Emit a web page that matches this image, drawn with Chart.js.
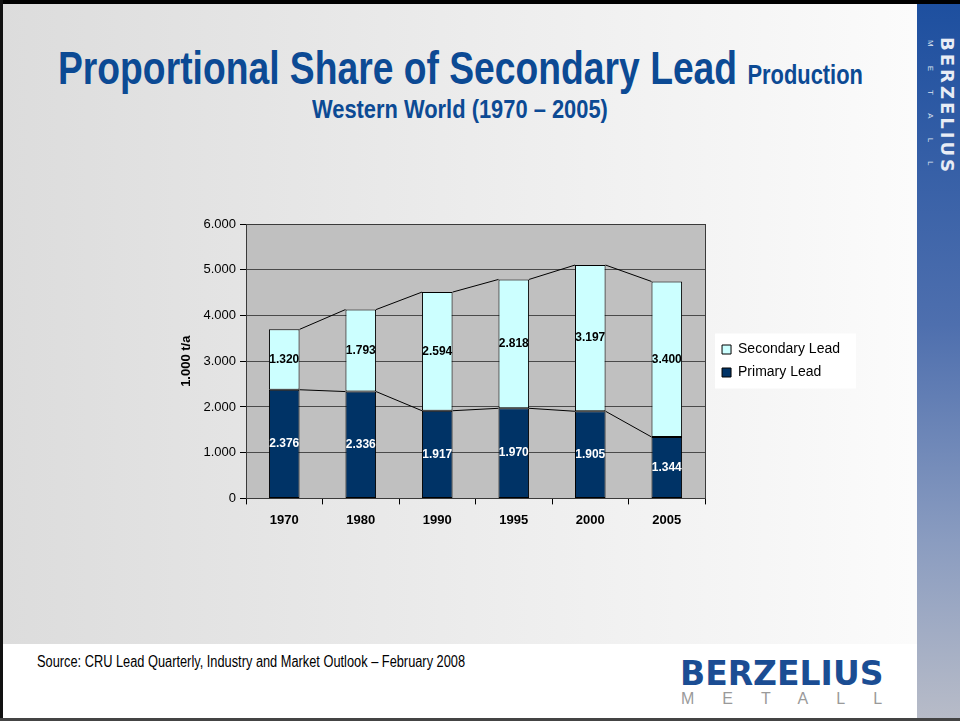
<!DOCTYPE html>
<html>
<head>
<meta charset="utf-8">
<script src="https://cdn.jsdelivr.net/npm/chart.js@4/dist/chart.umd.min.js"></script>
<style>
  body { margin: 0; }
  #slide {
    position: relative; width: 960px; height: 721px; overflow: hidden;
    background: linear-gradient(to right, #dcdcdc 0%, #fbfbfb 95%);
    font-family: "Liberation Sans", Arial, sans-serif;
  }
  #bottomband { position: absolute; left: 0; top: 644px; width: 917px; height: 77px; background: #fff; }
  #sidebar {
    position: absolute; left: 917px; top: 0; width: 43px; height: 721px;
    background: linear-gradient(to bottom, #1d4f9f 0%, #4e6fae 45%, #8a9cc0 75%, #b8bcc8 100%);
  }
  #frameTop { position: absolute; left: 0; top: 0; width: 960px; height: 4px; background: #000; }
  #frameLeft { position: absolute; left: 0; top: 0; width: 3px; height: 721px; background: #111; }
  #frameBottom { position: absolute; left: 0; top: 718px; width: 960px; height: 3px; background: #444; }
  .narrow { font-weight: bold; color: #0c4a94; transform-origin: 0 0; white-space: nowrap; }
  #title { position: absolute; left: 58px; top: 41px; font-size: 46px; transform: scaleX(0.81); }
  #title span { font-size: 27px; }
  #subtitle { position: absolute; left: 312px; top: 95px; font-size: 25px; transform: scaleX(0.875); }
  #source { position: absolute; left: 37px; top: 653px; font-size: 16px; color: #000; white-space: nowrap;
    transform-origin: 0 0; transform: scaleX(0.8); }
  #logo { position: absolute; left: 680px; top: 654px; font-family: "DejaVu Sans", sans-serif; font-weight: bold;
    font-size: 33px; color: #1b4d93; white-space: nowrap; }
  #logo2 { position: absolute; left: 681px; top: 690px; font-size: 16px; color: #9a9a9a; letter-spacing: 28px; white-space: nowrap; }
  #side1 { position: absolute; left: 958px; top: 37px; transform-origin: 0 0; transform: rotate(90deg);
    font-family: "DejaVu Sans", sans-serif; font-weight: bold; font-size: 18px; letter-spacing: 3px; color: #e8ecf5; white-space: nowrap; }
  #side2 { position: absolute; left: 935px; top: 40px; transform-origin: 0 0; transform: rotate(90deg);
    font-size: 8px; color: #dfe5f0; letter-spacing: 19px; white-space: nowrap; }
  #wrap { position: absolute; left: 170px; top: 205px; width: 690px; height: 335px; }
</style>
</head>
<body>
<div id="slide">
  <div id="bottomband"></div>
  <div id="sidebar"></div>
  <div id="frameTop"></div>
  <div id="frameLeft"></div>
  <div id="frameBottom"></div>
  <div id="title" class="narrow">Proportional Share of Secondary Lead <span>Production</span></div>
  <div id="subtitle" class="narrow">Western World (1970 – 2005)</div>
  <div id="source">Source: CRU Lead Quarterly, Industry and Market Outlook – February 2008</div>
  <div id="logo">BERZELIUS</div>
  <div id="logo2">METALL</div>
  <div id="side1">BERZELIUS</div>
  <div id="side2">METALL</div>
  <div id="wrap"><canvas id="chart"></canvas></div>
</div>
<script>
const years = ['1970', '1980', '1990', '1995', '2000', '2005'];
const primaryLead = [2376, 2336, 1917, 1970, 1905, 1344];
const secondaryLead = [1320, 1793, 2594, 2818, 3197, 3400];
const yTicks = [0, 1000, 2000, 3000, 4000, 5000, 6000];

function fmt(v) {
  return v === 0 ? '0' : (v / 1000).toFixed(3);
}

// move the legend a little right of the plot and up to its middle, like the slide
const legendNudge = {
  id: 'legendNudge',
  afterLayout(chart) {
    const lg = chart.legend;
    const dx = 8, dy = -19;
    lg.left += dx; lg.right += dx;
    lg.top += dy; lg.bottom += dy;
    (lg.legendHitBoxes || []).forEach(b => { b.left += dx; b.top += dy; });
  }
};

// grey plot area, white legend box, plot frame
const plotArea = {
  id: 'plotArea',
  beforeDraw(chart) {
    const { ctx, chartArea: a, legend } = chart;
    ctx.save();
    ctx.fillStyle = '#c0c0c0';
    ctx.fillRect(a.left, a.top, a.width, a.height);
    const hb = legend.legendHitBoxes;
    if (hb && hb.length) {
      const top = Math.min(...hb.map(b => b.top)) - 9;
      const bottom = Math.max(...hb.map(b => b.top + b.height)) + 9;
      ctx.fillStyle = '#ffffff';
      ctx.fillRect(legend.left + 2, top, legend.width + 4, bottom - top);
    }
    ctx.restore();
  },
  afterDraw(chart) {
    const { ctx, chartArea: a } = chart;
    ctx.save();
    ctx.strokeStyle = '#3a3a3a';
    ctx.lineWidth = 1;
    ctx.strokeRect(Math.round(a.left) + 0.5, Math.round(a.top) + 0.5, Math.round(a.width), Math.round(a.height));
    ctx.restore();
  }
};

// series lines joining the tops of the stacked bars
const seriesLines = {
  id: 'seriesLines',
  afterDatasetsDraw(chart) {
    const ctx = chart.ctx;
    ctx.save();
    ctx.strokeStyle = '#000';
    ctx.lineWidth = 1;
    chart.data.datasets.forEach((ds, di) => {
      const bars = chart.getDatasetMeta(di).data;
      for (let i = 0; i < bars.length - 1; i++) {
        const a = bars[i], b = bars[i + 1];
        ctx.beginPath();
        ctx.moveTo(a.x + a.width / 2, a.y);
        ctx.lineTo(b.x - b.width / 2, b.y);
        ctx.stroke();
      }
    });
    ctx.restore();
  }
};

// value labels in the middle of each segment
const valueLabels = {
  id: 'valueLabels',
  afterDatasetsDraw(chart) {
    const ctx = chart.ctx;
    ctx.save();
    ctx.font = 'bold 12px "Liberation Sans", Arial, sans-serif';
    ctx.textAlign = 'center';
    ctx.textBaseline = 'middle';
    chart.data.datasets.forEach((ds, di) => {
      ctx.fillStyle = di === 0 ? '#ffffff' : '#000000';
      chart.getDatasetMeta(di).data.forEach((bar, i) => {
        ctx.fillText(fmt(ds.data[i]), bar.x, (bar.y + bar.base) / 2);
      });
    });
    ctx.restore();
  }
};

new Chart(document.getElementById('chart'), {
  type: 'bar',
  data: {
    labels: years,
    datasets: [
      {
        label: 'Primary Lead',
        data: primaryLead,
        backgroundColor: '#003366',
        borderColor: '#000',
        borderWidth: 1,
        borderSkipped: false
      },
      {
        label: 'Secondary Lead',
        data: secondaryLead,
        backgroundColor: '#ccffff',
        borderColor: '#000',
        borderWidth: 1,
        borderSkipped: false
      }
    ]
  },
  options: {
    responsive: true,
    maintainAspectRatio: false,
    animation: false,
    layout: { padding: { top: 19, right: 18, bottom: 4, left: 0 } },
    datasets: { bar: { categoryPercentage: 0.8, barPercentage: 0.5 } },
    plugins: {
      legend: {
        position: 'right',
        reverse: true,
        labels: {
          boxWidth: 9,
          boxHeight: 9,
          padding: 9,
          color: '#000',
          font: { family: '"Liberation Sans", Arial, sans-serif', size: 14 }
        }
      },
      tooltip: { enabled: false }
    },
    scales: {
      x: {
        stacked: true,
        grid: { drawOnChartArea: false, tickLength: 6, color: '#000' },
        border: { color: '#000' },
        ticks: {
          padding: 8,
          color: '#000',
          font: { family: '"Liberation Sans", Arial, sans-serif', size: 13, weight: 'bold' }
        }
      },
      y: {
        stacked: true,
        min: 0,
        max: 6000,
        afterBuildTicks(scale) { scale.ticks = yTicks.map(v => ({ value: v })); },
        afterFit(scale) { scale.width = 76; },
        grid: { color: '#4a4a4a', tickColor: '#000', tickLength: 6 },
        border: { color: '#000' },
        title: {
          display: true,
          text: '1.000 t/a',
          color: '#000',
          padding: { top: 9, bottom: 0 },
          font: { family: '"Liberation Sans", Arial, sans-serif', size: 13, weight: 'bold' }
        },
        ticks: {
          padding: 4,
          color: '#000',
          callback: v => fmt(v),
          font: { family: '"Liberation Sans", Arial, sans-serif', size: 13 }
        }
      }
    }
  },
  plugins: [legendNudge, plotArea, seriesLines, valueLabels]
});
</script>
</body>
</html>
